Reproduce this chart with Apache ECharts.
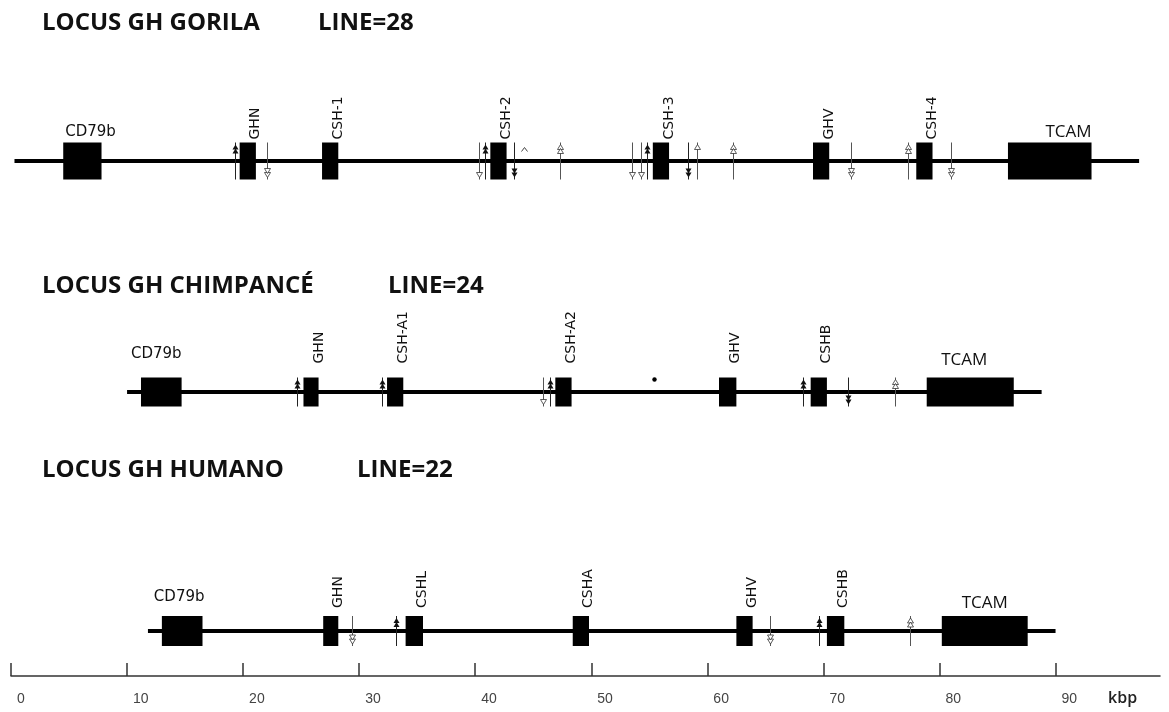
<!DOCTYPE html>
<html><head><meta charset="utf-8">
<script src="https://cdn.jsdelivr.net/npm/echarts@6/dist/echarts.min.js"></script>
<style>html,body{margin:0;padding:0;background:#fff}#c{width:1169px;height:712px}</style>
</head><body><div id="c"></div>
<script>
// ---------------- data ----------------
const xTicks = [0, 10, 20, 30, 40, 50, 60, 70, 80, 90];
const axisUnit = 'kbp';
const trackNames = ['LOCUS GH GORILA', 'LOCUS GH CHIMPANCÉ', 'LOCUS GH HUMANO'];
const lineCounts = ['LINE=28', 'LINE=24', 'LINE=22'];
// locus extent (kbp) per track
const trackSpan = [[0.3, 97.2], [10.0, 88.8], [11.8, 90.0]];
// genes: [name, start kbp, end kbp]
const gorillaGenes = [['CD79b', 4.5, 7.8], ['GHN', 19.7, 21.1], ['CSH-1', 26.8, 28.2], ['CSH-2', 41.3, 42.7], ['CSH-3', 55.3, 56.7], ['GHV', 69.1, 70.5], ['CSH-4', 78.0, 79.4], ['TCAM', 85.9, 93.1]];
const chimpGenes = [['CD79b', 11.2, 14.7], ['GHN', 25.2, 26.5], ['CSH-A1', 32.4, 33.8], ['CSH-A2', 46.9, 48.3], ['GHV', 61.0, 62.5], ['CSHB', 68.9, 70.3], ['TCAM', 78.9, 86.4]];
const humanGenes = [['CD79b', 13.0, 16.5], ['GHN', 26.9, 28.2], ['CSHL', 34.0, 35.5], ['CSHA', 48.4, 49.8], ['GHV', 62.5, 63.9], ['CSHB', 70.3, 71.8], ['TCAM', 80.2, 87.6]];
// LINE elements: [position kbp, code]  U=up D=down, 1/2 arrowheads, f=filled h=hollow, C=caret only, P=dot
const gorillaLines = [[19.3, 'U2f'], [22.1, 'D2h'], [40.3, 'D1h'], [40.8, 'U2f'], [43.3, 'D2f'], [44.2, 'C'], [47.3, 'U2h'], [53.5, 'D1h'], [54.3, 'D1h'], [54.8, 'U2f'], [58.3, 'D2f'], [59.1, 'U1h'], [62.2, 'U2h'], [72.4, 'D2h'], [77.3, 'U2h'], [81.0, 'D2h']];
const chimpLines = [[24.6, 'U2f'], [32.0, 'U2f'], [45.8, 'D1h'], [46.4, 'U2f'], [55.4, 'P'], [68.2, 'U2f'], [72.1, 'D2f'], [76.2, 'U2h']];
const humanLines = [[29.4, 'D2h'], [33.2, 'U2f'], [65.4, 'D2h'], [69.6, 'U2f'], [77.5, 'U2h']];

// ---------------- layout / style ----------------
const layout = {
  trackY: [161, 392, 631],
  boxHalf: [18.5, 14.5, 15],
  rotGap: [3, 14, 8],
  titleY: [27, 290, 474],
  titleX: 42,
  countX: [318, 388, 357],
  hLabel: [
    { CD79b: { align: 'left', dx: 2, y: 132 }, TCAM: { align: 'right', dx: 0, y: 132 } },
    { CD79b: { align: 'right', dx: 0, y: 354 }, TCAM: { align: 'center', dx: -6, y: 360 } },
    { CD79b: { align: 'center', dx: -3, y: 597 }, TCAM: { align: 'center', dx: 0, y: 603 } }
  ]
};
const geneSets = [gorillaGenes, chimpGenes, humanGenes];
const lineSets = [gorillaLines, chimpLines, humanLines];

const geneItems = [];
geneSets.forEach((set, t) => set.forEach(g => geneItems.push({ name: g[0], start: g[1], end: g[2], track: t })));
const lineItems = [];
lineSets.forEach((set, t) => set.forEach(l => lineItems.push({ pos: l[0], code: l[1], track: t })));

function renderBackbone(params, api) {
  const t = api.value(2);
  const a = api.coord([api.value(0), layout.trackY[t]]);
  const b = api.coord([api.value(1), layout.trackY[t]]);
  return { type: 'rect', shape: { x: a[0], y: a[1] - 2, width: b[0] - a[0], height: 4 }, style: { fill: '#000' } };
}

function renderGene(params, api) {
  const g = geneItems[params.dataIndex];
  const t = g.track;
  const a = api.coord([api.value(0), layout.trackY[t]]);
  const b = api.coord([api.value(1), layout.trackY[t]]);
  const h = layout.boxHalf[t];
  const children = [{ type: 'rect', shape: { x: a[0], y: a[1] - h, width: b[0] - a[0], height: 2 * h }, style: { fill: '#000' } }];
  const hl = layout.hLabel[t][g.name];
  if (hl) {
    let x = hl.align === 'left' ? a[0] : hl.align === 'right' ? b[0] : (a[0] + b[0]) / 2;
    const isT = g.name === 'TCAM';
    children.push({ type: 'text', x: x + hl.dx, y: hl.y, style: { text: g.name, fontFamily: isT ? 'Open Sans' : 'DejaVu Sans', fontSize: isT ? 17 : 15, fill: '#111', align: hl.align, verticalAlign: 'middle' } });
  } else {
    const cx = (a[0] + b[0]) / 2;
    children.push({ type: 'text', x: cx + 1, y: a[1] - h - layout.rotGap[t], rotation: Math.PI / 2, style: { text: g.name, fontFamily: 'DejaVu Sans', fontSize: 14, fill: '#111', align: 'left', verticalAlign: 'top' } });
  }
  return { type: 'group', children };
}

function arrow(x, tipY, dir, filled) {
  const s = dir === 'U' ? 1 : -1;
  return { type: 'polygon', shape: { points: [[x, tipY], [x - 3, tipY + 5 * s], [x + 3, tipY + 5 * s]] }, style: filled ? { fill: '#111' } : { fill: '#fff', stroke: '#333', lineWidth: 0.8 } };
}

function renderLine(params, api) {
  const l = lineItems[params.dataIndex];
  const t = l.track;
  const p = api.coord([api.value(0), layout.trackY[t]]);
  const h = layout.boxHalf[t];
  const x = Math.round(p[0]) + 0.5;
  const top = p[1] - h, bot = p[1] + h;
  const children = [];
  if (l.code === 'P') {
    children.push({ type: 'circle', shape: { cx: x, cy: top + 2, r: 2.2 }, style: { fill: '#000' } });
    return { type: 'group', children };
  }
  if (l.code === 'C') {
    children.push({ type: 'polyline', shape: { points: [[x - 3, top + 9], [x, top + 5], [x + 3, top + 9]] }, style: { stroke: '#444', lineWidth: 1, fill: null } });
    return { type: 'group', children };
  }
  const dir = l.code[0], n = +l.code[1], filled = l.code[2] === 'f';
  children.push({ type: 'line', shape: { x1: x, y1: top, x2: x, y2: bot }, style: { stroke: filled ? '#222' : '#555', lineWidth: 1 } });
  for (let i = 0; i < n; i++) {
    if (dir === 'U') children.push(arrow(x, top + 2 + i * 4, 'U', filled));
    else children.push(arrow(x, bot - 2 - i * 4, 'D', filled));
  }
  return { type: 'group', children };
}

const graphics = [];
trackNames.forEach((name, i) => {
  graphics.push({ type: 'text', left: layout.titleX, top: layout.titleY[i] - 16, style: { text: name, fontFamily: 'Open Sans', fontWeight: 'bold', fontSize: 24, fill: '#111' } });
  graphics.push({ type: 'text', left: layout.countX[i], top: layout.titleY[i] - 16, style: { text: lineCounts[i], fontFamily: 'Open Sans', fontWeight: 'bold', fontSize: 24, fill: '#111' } });
});
graphics.push({ type: 'text', left: 1108, top: 690, style: { text: axisUnit, fontFamily: 'Open Sans', fontWeight: 600, fontSize: 16, fill: '#222' } });

const chart = echarts.init(document.getElementById('c'), null, { renderer: 'canvas' });
chart.setOption({
  animation: false,
  backgroundColor: '#fff',
  grid: { left: 11, right: 9, top: 0, bottom: 36 },
  xAxis: {
    type: 'value', min: 0, max: 99, interval: 10, position: 'bottom',
    splitLine: { show: false },
    axisLine: { onZero: false, lineStyle: { color: '#333', width: 1.5 } },
    axisTick: { inside: true, length: 13, customValues: xTicks, lineStyle: { color: '#333', width: 1.5 } },
    axisLabel: { customValues: xTicks, color: '#444', fontFamily: 'Liberation Sans', fontSize: 14, margin: 16, align: 'left', padding: [0, 0, 0, 6] }
  },
  yAxis: { type: 'value', min: 0, max: 676, inverse: true, show: false },
  graphic: graphics,
  series: [
    { type: 'custom', renderItem: renderBackbone, data: trackSpan.map((s, i) => [s[0], s[1], i]), encode: { x: [0, 1] }, z: 1 },
    { type: 'custom', renderItem: renderLine, data: lineItems.map(l => [l.pos, l.track]), encode: { x: 0 }, z: 2 },
    { type: 'custom', renderItem: renderGene, data: geneItems.map(g => [g.start, g.end, g.track]), encode: { x: [0, 1] }, z: 3 }
  ]
});
</script></body></html>
